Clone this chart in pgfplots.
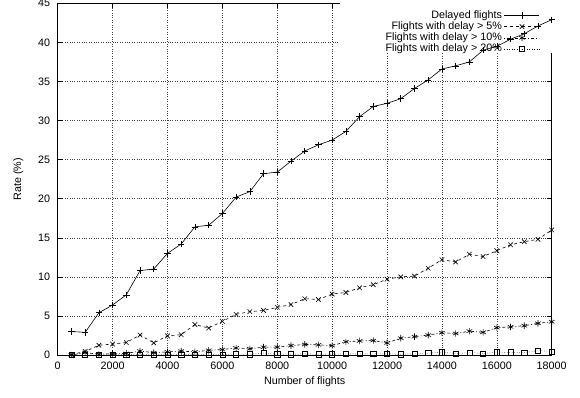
\documentclass[border=0pt]{standalone}
\usepackage{fontspec}
\setmainfont{Liberation Sans}
\usepackage{pgfplots}
\pgfplotsset{compat=1.18}
\pgfdeclarelayer{legendbg}
\pgfplotsset{
  layers/mylayers/.define layer set={axis background,axis grid,legendbg,axis ticks,axis lines,axis tick labels,pre main,main,axis descriptions,axis foreground}{},
}
\pgfplotstableread{
x delayed d5 d10 d20
500 3.0 0.05 0.0 0.0
1000 2.9 0.45 0.3 0.0
1500 5.4 1.25 0.1 0.0
2000 6.4 1.4 0.15 0.05
2500 7.7 1.6 0.2 0.05
3000 10.8 2.55 0.5 0.05
3500 11.0 1.55 0.3 0.05
4000 13.0 2.45 0.4 0.05
4500 14.2 2.6 0.5 0.05
5000 16.4 3.9 0.4 0.05
5500 16.6 3.45 0.6 0.05
6000 18.1 4.3 0.7 0.05
6500 20.2 5.2 0.9 0.1
7000 20.9 5.55 0.8 0.1
7500 23.2 5.7 1.0 0.25
8000 23.4 6.1 1.0 0.1
8500 24.8 6.45 1.2 0.1
9000 26.1 7.2 1.35 0.15
9500 26.9 7.1 1.3 0.1
10000 27.5 7.8 1.2 0.1
10500 28.6 8.0 1.7 0.15
11000 30.5 8.6 1.8 0.15
11500 31.8 9.0 1.85 0.15
12000 32.2 9.7 1.55 0.15
12500 32.8 10.0 2.15 0.1
13000 34.1 10.1 2.35 0.15
13500 35.2 11.1 2.55 0.25
14000 36.6 12.2 2.85 0.35
14500 37.0 11.9 2.75 0.2
15000 37.5 12.9 3.05 0.3
15500 39.0 12.6 2.9 0.2
16000 39.5 13.35 3.5 0.35
16500 40.4 14.1 3.6 0.35
17000 41.1 14.5 3.75 0.3
17500 42.1 14.8 4.05 0.55
18000 42.9 16.0 4.25 0.45
}\datatable
\begin{document}
\begin{tikzpicture}
\begin{axis}[
  set layers=mylayers,
  scale only axis,
  width=494bp, height=351.7bp,
  xmin=0, xmax=18000, ymin=0, ymax=45,
  xtick={0,2000,...,18000},
  ytick={0,5,...,45},
  scaled x ticks=false,
  /pgf/number format/set thousands separator={},
  /pgf/number format/assume math mode=true,
  tick label style={font=\fontsize{10.8}{12}\selectfont},
  yticklabel style={xshift=-4bp},
  xticklabel style={yshift=-3.5bp},
  label style={font=\fontsize{10.8}{12}\selectfont},
  xlabel={Number of flights},
  ylabel={Rate (\%)},
  xlabel style={at={(axis description cs:0.5,0)}, anchor=north, yshift=-18.6bp},
  ylabel style={at={(axis description cs:-0.0798,0.5)}, anchor=center, rotate=0},
  grid=major,
  major grid style={dotted, black!75, line width=0.5pt},
  tick align=inside,
  major tick length=5bp,
  tick style={black, line width=0.5pt},
  axis line style={black, line width=0.9pt},
  clip=false,
  legend cell align=right,
  legend plot pos=right,
  legend image code/.code={\draw[mark repeat=2,mark phase=2,#1] plot coordinates {(0bp,0bp) (17.5bp,0bp) (35bp,0bp)};},
  legend style={draw=none, fill=none, at={(rel axis cs:0.9763,0.982)}, anchor=north east,
    inner sep=0pt, row sep=0pt, column sep=2pt,
    font=\fontsize{10.8}{12}\selectfont,
    nodes={inner sep=0.3bp, text height=8bp, text depth=2.6bp}},
]
\draw[on layer=legendbg, fill=white, draw=none] (rel axis cs:0.5715,1) rectangle (rel axis cs:1,0.8587);
\addplot[black, line width=0.6pt, mark=+, mark size=3.2bp, mark options={solid}] table[x=x,y=delayed] {\datatable};
\addlegendentry{Delayed flights}
\addplot[black, line width=0.6pt, dashed, mark=x, mark size=3.2bp, mark options={solid}] table[x=x,y=d5] {\datatable};
\addlegendentry{Flights with delay > 5\%}
\addplot[black, line width=0.6pt, dash pattern=on 1bp off 2bp on 3bp off 2bp, mark=asterisk, mark size=3.2bp, mark options={solid}] table[x=x,y=d10] {\datatable};
\addlegendentry{Flights with delay > 10\%}
\addplot[black, line width=0.5pt, dotted, mark=square, mark size=2.6bp, mark options={solid}] table[x=x,y=d20] {\datatable};
\addlegendentry{Flights with delay > 20\%}
\end{axis}
\pgfresetboundingbox
\path[use as bounding box] ([shift={(-57.7bp,-43bp)}]current axis.south west) rectangle ([shift={(28.3bp,3.3bp)}]current axis.north east);
\end{tikzpicture}
\end{document}
